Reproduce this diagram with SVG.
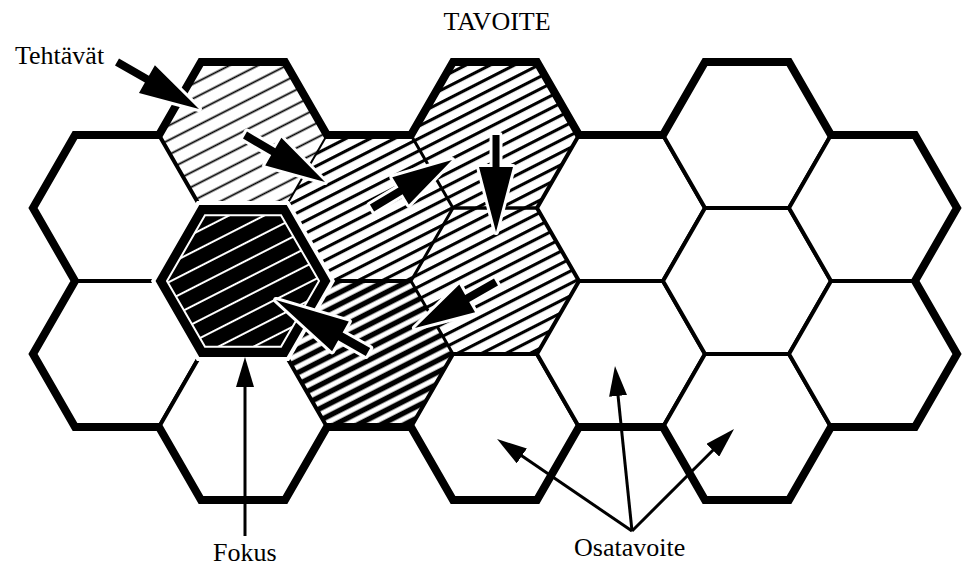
<svg xmlns="http://www.w3.org/2000/svg" width="964" height="568" viewBox="0 0 964 568">
<style>
  .hex { fill: #fff; stroke: #000; stroke-width: 4; stroke-linejoin: miter; }
  .hatched { stroke: none; }
  .edge { fill: none; stroke: #000; stroke-linecap: butt; }
  .outline { fill: none; stroke: #000; stroke-width: 8; stroke-linejoin: miter; stroke-miterlimit: 4; }
  .big { fill: #000; stroke: #fff; stroke-width: 6; paint-order: stroke; stroke-linejoin: round; }
  .thin { fill: none; stroke: #000; stroke-width: 3; marker-end: url(#ah); }
  .lbl { font-family: "Liberation Serif", "Times New Roman", serif; font-size: 26px; fill: #000; }
</style>
<defs>
  <pattern id="hC" patternUnits="userSpaceOnUse" width="200" height="13" patternTransform="rotate(-27)">
    <rect width="200" height="13" fill="#fff"/>
    <rect y="5.6" width="200" height="1.8" fill="#000"/>
  </pattern>
  <pattern id="hF" patternUnits="userSpaceOnUse" width="200" height="11" patternTransform="rotate(-27)">
    <rect width="200" height="11" fill="#fff"/>
    <rect y="4" width="200" height="3.1" fill="#000"/>
  </pattern>
  <pattern id="hG" patternUnits="userSpaceOnUse" width="200" height="10.5" patternTransform="rotate(-27)">
    <rect width="200" height="10.5" fill="#fff"/>
    <rect y="2.6" width="200" height="5.4" fill="#000"/>
  </pattern>
  <pattern id="hD" patternUnits="userSpaceOnUse" width="200" height="16" patternTransform="rotate(-27)">
    <rect width="200" height="16" fill="#000"/>
    <rect y="7" width="200" height="2" fill="#fff"/>
  </pattern>
  <marker id="ah" viewBox="0 0 10 6" refX="0.5" refY="3" markerWidth="10" markerHeight="6" orient="auto" markerUnits="strokeWidth">
    <path d="M0,0 L10,3 L0,6 Z" fill="#000"/>
  </marker>
</defs>

<!-- hatched hexes -->
<g id="hex-c1r0"><polygon class="hatched" fill="url(#hC)" points="159,135 201,62 285,62 327,135 285,208 201,208"/></g>
<g id="hex-c2r0"><polygon class="hatched" fill="url(#hF)" points="285,208 327,135 411,135 453,208 411,281 327,281"/></g>
<g id="hex-c3r0"><polygon class="hatched" fill="url(#hF)" points="411,135 453,62 537,62 579,135 537,208 453,208"/></g>
<g id="hex-c3r1"><polygon class="hatched" fill="url(#hF)" points="411,281 453,208 537,208 579,281 537,354 453,354"/></g>
<g id="hex-c2r1"><polygon class="hatched" fill="url(#hG)" points="285,354 327,281 411,281 453,354 411,427 327,427"/></g>

<!-- white hexes -->
<g id="hex-c0r0"><polygon class="hex" points="33,208 75,135 159,135 201,208 159,281 75,281"/></g>
<g id="hex-c0r1"><polygon class="hex" points="33,354 75,281 159,281 201,354 159,427 75,427"/></g>
<g id="hex-c1r2"><polygon class="hex" points="159,427 201,354 285,354 327,427 285,500 201,500"/></g>
<g id="hex-c3r2"><polygon class="hex" points="411,427 453,354 537,354 579,427 537,500 453,500"/></g>
<g id="hex-c4r0"><polygon class="hex" points="537,208 579,135 663,135 705,208 663,281 579,281"/></g>
<g id="hex-c4r1"><polygon class="hex" points="537,354 579,281 663,281 705,354 663,427 579,427"/></g>
<g id="hex-c5r0"><polygon class="hex" points="663,135 705,62 789,62 831,135 789,208 705,208"/></g>
<g id="hex-c5r1"><polygon class="hex" points="663,281 705,208 789,208 831,281 789,354 705,354"/></g>
<g id="hex-c5r2"><polygon class="hex" points="663,427 705,354 789,354 831,427 789,500 705,500"/></g>
<g id="hex-c6r0"><polygon class="hex" points="789,208 831,135 915,135 957,208 915,281 831,281"/></g>
<g id="hex-c6r1"><polygon class="hex" points="789,354 831,281 915,281 957,354 915,427 831,427"/></g>

<!-- edges inside the hatched cluster -->
<g id="cluster-edges">
  <path class="edge" stroke-width="2" d="M327,135 L285,208"/>
  <path class="edge" stroke-width="3" d="M411,135 L453,208 L411,281 L453,354"/>
  <path class="edge" stroke-width="3.5" d="M453,208 L537,208"/>
  <path class="edge" stroke-width="4" d="M327,281 L411,281"/>
</g>

<!-- Fokus hex -->
<g id="hex-fokus">
  <polygon fill="#fff" stroke="#fff" stroke-width="14" stroke-linejoin="miter" points="159,281 201,208 285,208 327,281 285,354 201,354"/>
  <polygon fill="#000" stroke="#000" stroke-width="6" stroke-linejoin="miter" points="159,281 201,208 285,208 327,281 285,354 201,354"/>
  <polygon fill="url(#hD)" stroke="#fff" stroke-width="2" points="167,281 205,215.2 281,215.2 319,281 281,346.8 205,346.8"/>
</g>

<!-- outer boundary -->
<path id="outline" class="outline" d="M33,208 L75,135 L159,135 L201,62 L285,62 L327,135 L411,135 L453,62 L537,62 L579,135 L663,135 L705,62 L789,62 L831,135 L915,135 L957,208 L915,281 L957,354 L915,427 L831,427 L789,500 L705,500 L663,427 L579,427 L537,500 L453,500 L411,427 L327,427 L285,500 L201,500 L159,427 L75,427 L33,354 L75,281 Z"/>

<!-- connectors -->
<g id="connectors">
  <polygon class="big" points="115.0,65.5 144.9,82.6 139.0,93.0 199,109 154.9,65.3 148.9,75.7 119.0,58.5"/>
  <polygon class="big" points="243.0,138.5 271.2,155.1 265.2,165.4 325,182 281.4,137.8 275.3,148.2 247.0,131.6"/>
  <polygon class="big" points="374.1,211.4 402.6,194.3 408.8,204.6 452,160 392.3,177.2 398.5,187.4 369.9,204.6"/>
  <polygon class="big" points="492.5,135 492.5,167 479,167 496,232 513,167 499.5,167 499.5,135"/>
  <polygon class="big" points="494.0,278.5 465.2,294.9 459.3,284.5 415,328 475.1,312.3 469.2,301.9 498.0,285.5"/>
  <polygon class="big" points="370.2,348.1 342.6,332.5 348.8,321.6 276,300 332.1,351.2 338.2,340.3 365.8,355.9"/>
  <line class="thin" x1="245" y1="536" x2="245" y2="385.5"/>
  <line class="thin" x1="632" y1="531" x2="520.6" y2="455.1"/>
  <line class="thin" x1="632" y1="531" x2="617.9" y2="394.4"/>
  <line class="thin" x1="632" y1="531" x2="713.9" y2="449.2"/>
</g>

<!-- labels -->
<g id="labels" font-family="'Liberation Serif', 'Times New Roman', serif" font-size="26">
  <text class="lbl" font-family="Liberation Serif, serif" x="497" y="30" text-anchor="middle">TAVOITE</text>
  <text class="lbl" font-family="Liberation Serif, serif" x="15" y="64">Tehtävät</text>
  <text class="lbl" font-family="Liberation Serif, serif" x="213" y="561">Fokus</text>
  <text class="lbl" font-family="Liberation Serif, serif" x="574" y="556">Osatavoite</text>
</g>
</svg>
